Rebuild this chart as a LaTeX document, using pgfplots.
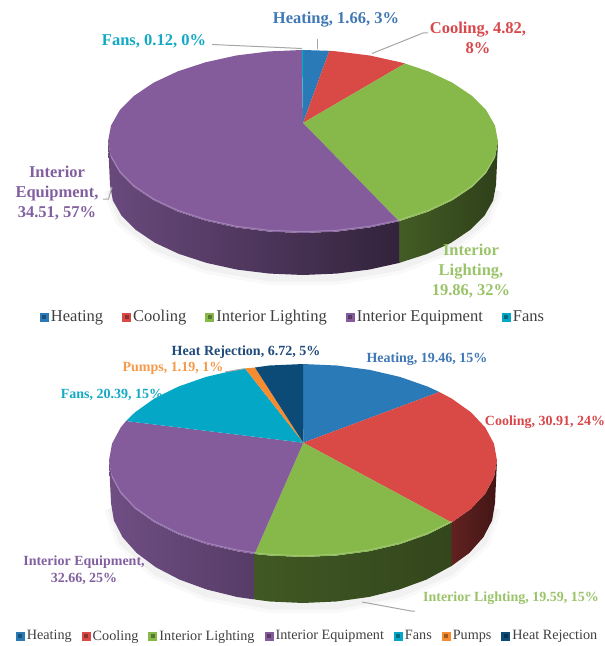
\documentclass[border=0pt]{standalone}
\usepackage{fontspec}
\setmainfont{Liberation Serif}
\usepackage{pgfplots}
\usepackage{pgfplotstable}
\pgfplotsset{compat=1.18}

\definecolor{cHeat}{HTML}{2A7AB8}
\definecolor{cCool}{HTML}{D94A47}
\definecolor{cLight}{HTML}{86B84A}
\definecolor{cEquip}{HTML}{845C9C}
\definecolor{cFans}{HTML}{04A8C6}
\definecolor{cPump}{HTML}{F68B2F}
\definecolor{cRej}{HTML}{0C4A78}
\definecolor{tHeat}{HTML}{3F78B4}
\definecolor{tCool}{HTML}{D8474A}
\definecolor{tLight}{HTML}{9BC36A}
\definecolor{tEquip}{HTML}{8260A0}
\definecolor{tFans}{HTML}{13A9C4}
\definecolor{tPump}{HTML}{F59A4A}
\definecolor{tRej}{HTML}{1F4A7A}
\definecolor{leader}{HTML}{A6A6A6}
\definecolor{legtxt}{HTML}{404040}

% lower outlines of the two pies, used for the soft shadow
\pgfplotstableread{
x y
110 190
121.6 220
155.2 247
206.5 267
269.5 278
336.5 278
399.5 267
450.8 247
484.4 220
496 190
}\shadowA
\pgfplotstableread{
x y
111 508
122.6 542
155.9 572
207 594
269.7 606
336.3 606
399 594
450.1 572
483.4 542
495 508
}\shadowB

\pgfplotsset{
  pix/.style={
    x=1pt, y=1pt, xmin=0, xmax=605, ymin=0, ymax=646, y dir=reverse,
    scale only axis, hide axis, clip=false,
    legend cell align=left,
    legend style={draw=none, fill=none, text=legtxt, inner sep=0pt},
    legend image code/.code={
      \fill[##1] (0pt,-4.5pt) rectangle (9pt,4.5pt);
      \fill[black, opacity=.35] (2.5pt,-2pt) rectangle (6.5pt,2pt);
    },
  },
}
\tikzset{
  laba/.style={font=\bfseries\fontsize{16.5}{20}\selectfont, align=center, inner sep=0pt},
  labb/.style={font=\bfseries\fontsize{14}{17.5}\selectfont, align=center, inner sep=0pt},
}

\begin{document}
\begin{tikzpicture}
\path[use as bounding box] (0,0) rectangle (605pt,646pt);

% ---- upper pie
\begin{axis}[pix,
  legend columns=5,
  legend style={at={(axis cs:293,317)}, anchor=center, font=\fontsize{16.5}{18}\selectfont,
    /tikz/every even column/.append style={column sep=17pt}},
]
\addplot[forget plot, draw=black, opacity=.025, line width=14pt, line join=round] table[x=x,y=y] {\shadowA};
\addplot[forget plot, draw=black, opacity=.03, line width=7pt, line join=round] table[x=x,y=y] {\shadowA};
% sides
\addplot[forget plot, draw=none, left color=cLight!50!black, right color=cLight!35!black] coordinates {
 (498,141.5) (495,157.4) (486.2,172.8) (471.9,187.2) (452.4,200.3) (428.3,211.6) (399,221.3)
 (399,263) (427.1,253.9) (450.8,242.9) (470.1,230) (484.4,215.8) (493.1,200.6) (496,185)} -- cycle;
\addplot[forget plot, draw=none, left color=cEquip!80!black, middle color=cEquip!68!black, right color=cEquip!38!black] coordinates {
 (399,221.3) (369.7,227.5) (336.9,231.6) (303,233) (269.1,231.6) (236.3,227.5) (205.5,220.7)
 (177.7,211.6) (153.6,200.3) (134.1,187.2) (119.8,172.8) (111,157.4) (108,141.5)
 (110,185) (112.9,200.6) (121.6,215.8) (135.9,230) (155.2,242.9) (178.9,253.9) (206.5,262.9)
 (237,269.6) (269.5,273.6) (303,275) (336.5,273.6) (369,269.6) (399,263)} -- cycle;
% top faces
\addplot[draw=none, fill=cHeat] coordinates {(303,123) (303,50) (329.3,50.8)} -- cycle;
\addplot[draw=none, fill=cCool] coordinates {(303,123) (329.3,50.8) (336.9,51.4) (369.7,55.5) (400.5,62.3) (405,63.5)} -- cycle;
\addplot[draw=none, fill=cLight] coordinates {(303,123) (405,63.5) (428.3,71.4) (452.4,82.7) (471.9,95.8)
 (486.2,110.2) (495,125.6) (498,141.5) (495,157.4) (486.2,172.8) (471.9,187.2) (452.4,200.3) (428.3,211.6) (399,221.3)} -- cycle;
\addplot[draw=none, fill=cEquip] coordinates {(303,123) (399,221.3) (369.7,227.5) (336.9,231.6) (303,233)
 (269.1,231.6) (236.3,227.5) (205.5,220.7) (177.7,211.6) (153.6,200.3) (134.1,187.2) (119.8,172.8) (111,157.4) (108,141.5)
 (111,125.6) (119.8,110.2) (134.1,95.8) (153.6,82.7) (177.7,71.4) (205.5,62.3) (236.3,55.5) (269.1,51.4) (301.8,50)} -- cycle;
\addplot[draw=none, fill=cFans] coordinates {(303,123) (301.8,50) (303,50)} -- cycle;
% rim highlight
\addplot[forget plot, cEquip!65!white, line width=1pt, opacity=.7] coordinates {(399,220) (369.7,226.2) (336.9,230.3) (303,231.7)
 (269.1,230.3) (236.3,226.2) (205.5,219.4) (177.7,210.3) (153.6,199) (134.1,185.9) (119.8,171.5) (111,156.1)};
\addplot[forget plot, cLight!65!white, line width=1pt, opacity=.6] coordinates {(399,220) (428.3,210.3) (452.4,199) (471.9,185.9) (486.2,171.5) (495,156.1)};
% leaders
\addplot[forget plot, leader, line width=1pt] coordinates {(212,44.5) (302,48.5)};
\addplot[forget plot, leader, line width=1pt] coordinates {(317,39) (317,49.5)};
\addplot[forget plot, leader, line width=1pt] coordinates {(372,53.5) (423,33) (428,33)};
\addplot[forget plot, leader, line width=1pt] coordinates {(103,199) (108.5,199) (112,187)};
% labels
\node[laba, text=tHeat] at (axis cs:336,20) {Heating, 1.66, 3\%};
\node[laba, text=tCool] at (axis cs:478,38) {Cooling, 4.82,\\8\%};
\node[laba, text=tFans] at (axis cs:154,41) {Fans, 0.12, 0\%};
\node[laba, text=tEquip] at (axis cs:57,193) {Interior\\Equipment,\\34.51, 57\%};
\node[laba, text=tLight] at (axis cs:471,271) {Interior\\Lighting,\\19.86, 32\%};
\legend{Heating,Cooling,Interior Lighting,Interior Equipment,Fans}
\end{axis}

% ---- lower pie
\begin{axis}[pix,
  legend columns=7,
  legend style={at={(axis cs:307.5,636)}, anchor=center, font=\fontsize{14.2}{16}\selectfont,
    /tikz/every even column/.append style={column sep=8pt}},
]
\addplot[forget plot, draw=black, opacity=.025, line width=14pt, line join=round] table[x=x,y=y] {\shadowB};
\addplot[forget plot, draw=black, opacity=.03, line width=7pt, line join=round] table[x=x,y=y] {\shadowB};
% sides
\addplot[forget plot, draw=none, left color=cCool!45!black, right color=cCool!30!black] coordinates {
 (497,460.5) (494,477.3) (485.3,493.5) (471,508.8) (451.6,522.5)
 (451.5,566) (469.3,553) (483.4,537.2) (492.1,520.4) (495,503)} -- cycle;
\addplot[forget plot, draw=none, left color=cLight!48!black, right color=cLight!38!black] coordinates {
 (451.6,522.5) (427.7,534.4) (400,544.1) (369.3,551.2) (336.7,555.5) (303,557) (269.3,555.5) (254.6,554)
 (254.6,599.5) (269.7,601.5) (303,603) (336.3,601.5) (368.7,597) (399,589.6) (426.4,579.6) (451.5,566)} -- cycle;
\addplot[forget plot, draw=none, left color=cEquip!85!black, right color=cEquip!65!black] coordinates {
 (254.6,554) (236.7,551.2) (206,544.1) (178.3,534.4) (154.4,522.5) (135,508.8) (120.7,493.5) (112,477.3) (109,460.5)
 (111,503) (113.9,520.4) (122.6,537.2) (136.7,553) (155.9,567.3) (179.6,579.6) (207,589.6) (237.3,597) (254.6,599.5)} -- cycle;
% top faces
\addplot[draw=none, fill=cHeat] coordinates {(303.3,442.7) (303,364) (336.7,365.5) (369.3,369.8) (400,376.9) (427.7,386.6) (439.3,392)} -- cycle;
\addplot[draw=none, fill=cCool] coordinates {(303.3,442.7) (439.3,392) (451.6,398.5) (471,412.3) (485.3,427.5) (494,443.7) (497,460.5)
 (494,477.3) (485.3,493.5) (471,508.8) (451.6,522.5)} -- cycle;
\addplot[draw=none, fill=cLight] coordinates {(303.3,442.7) (451.6,522.5) (427.7,534.4) (400,544.1) (369.3,551.2) (336.7,555.5) (303,557) (269.3,555.5) (254.6,554)} -- cycle;
\addplot[draw=none, fill=cEquip] coordinates {(303.3,442.7) (254.6,554) (236.7,551.2) (206,544.1) (178.3,534.4) (154.4,522.5) (135,508.8)
 (120.7,493.5) (112,477.3) (109,460.5) (112,443.7) (120.7,427.5) (126,421)} -- cycle;
\addplot[draw=none, fill=cFans] coordinates {(303.3,442.7) (126,421) (135,412.3) (154.4,398.5) (178.3,386.6) (206,376.9) (236.7,369.8) (245,368.4)} -- cycle;
\addplot[draw=none, fill=cPump] coordinates {(303.3,442.7) (245,368.4) (255,367.5)} -- cycle;
\addplot[draw=none, fill=cRej] coordinates {(303.3,442.7) (255,367.5) (269.3,365.5) (303,364)} -- cycle;
% rim highlight
\addplot[forget plot, cEquip!65!white, line width=1pt, opacity=.7] coordinates {(254.6,552.7) (236.7,549.9) (206,542.8) (178.3,533.1) (154.4,521.2) (135,507.5) (120.7,492.2) (112,476)};
\addplot[forget plot, cLight!65!white, line width=1pt, opacity=.6] coordinates {(451.6,521.2) (427.7,533.1) (400,542.8) (369.3,549.9) (336.7,554.2) (303,555.7) (269.3,554.2) (254.6,552.7)};
% leaders
\addplot[forget plot, leader, line width=1pt] coordinates {(225,372) (243,369)};
\addplot[forget plot, leader, line width=1pt] coordinates {(362,602) (411,611) (415,611)};
% labels
\node[labb, text=tRej] at (axis cs:246,352) {Heat Rejection, 6.72, 5\%};
\node[labb, text=tHeat] at (axis cs:427,359) {Heating, 19.46, 15\%};
\node[labb, text=tCool] at (axis cs:545,422) {Cooling, 30.91, 24\%};
\node[labb, text=tPump] at (axis cs:173,368) {Pumps, 1.19, 1\%};
\node[labb, text=tFans] at (axis cs:112,395) {Fans, 20.39, 15\%};
\node[labb, text=tEquip] at (axis cs:84,570) {Interior Equipment,\\32.66, 25\%};
\node[labb, text=tLight] at (axis cs:511,598) {Interior Lighting, 19.59, 15\%};
\legend{Heating,Cooling,Interior Lighting,Interior Equipment,Fans,Pumps,Heat Rejection}
\end{axis}
\end{tikzpicture}
\end{document}
